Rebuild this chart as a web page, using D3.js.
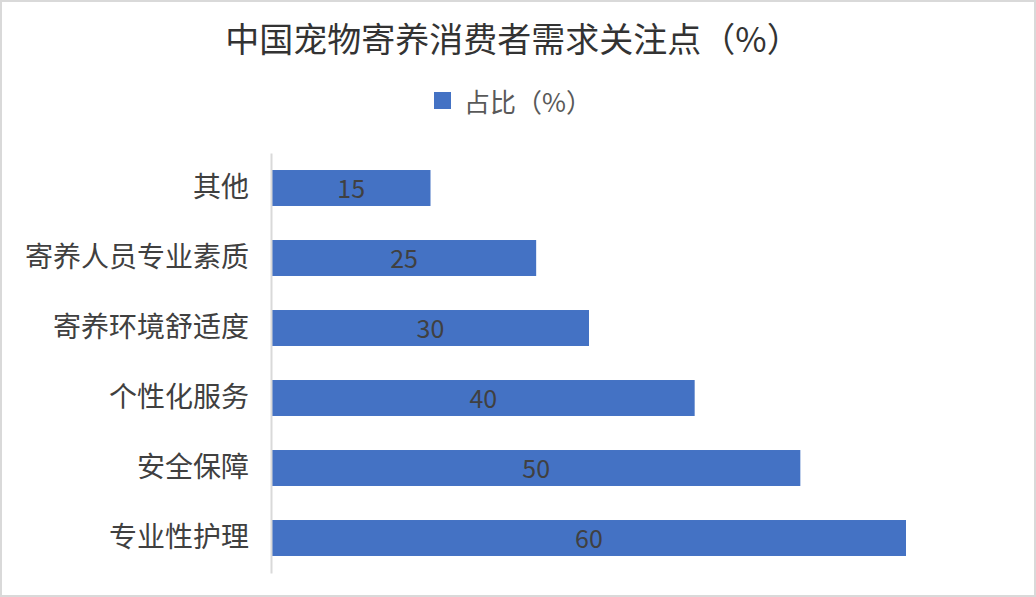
<!DOCTYPE html>
<html><head><meta charset="utf-8">
<script src="https://cdn.jsdelivr.net/npm/d3@7"></script>
<style>
html,body{margin:0;padding:0;background:#fff;}
svg{display:block;}
text{font-family:"Noto Sans CJK SC","Microsoft YaHei",sans-serif;}
</style></head>
<body>
<svg id="chart" width="1036" height="597"></svg>
<script>
const title = "中国宠物寄养消费者需求关注点（%）";
const seriesName = "占比（%）";
const categories = ["其他","寄养人员专业素质","寄养环境舒适度","个性化服务","安全保障","专业性护理"];
const values = [15,25,30,40,50,60];

const W = 1036, H = 597;
const svg = d3.select("#chart");

svg.append("rect").attr("x",1).attr("y",1).attr("width",W-2).attr("height",H-2)
  .attr("fill","#fff").attr("stroke","#d9d9d9").attr("stroke-width",2);

svg.append("text").attr("x",513).attr("y",37).attr("text-anchor","middle")
  .attr("dominant-baseline","central").attr("font-size",34).attr("fill","#333")
  .attr("font-weight",400).text(title);

// legend
const lg = svg.append("g");
lg.append("rect").attr("x",434).attr("y",92).attr("width",17).attr("height",17).attr("fill","#4472c4");
lg.append("text").attr("x",464).attr("y",100).attr("dominant-baseline","central")
  .attr("font-size",26).attr("fill","#595959").text(seriesName);

const x = d3.scaleLinear().domain([0,60]).range([272,906]);
const y = d3.scaleBand().domain(categories).range([153,573]).paddingInner(0.486).paddingOuter(0.243);

// bars
svg.append("g").selectAll("rect").data(values).join("rect")
  .attr("x",x(0)).attr("y",(d,i)=>y(categories[i]))
  .attr("width",d=>x(d)-x(0)).attr("height",y.bandwidth()).attr("fill","#4472c4");

// value labels
svg.append("g").selectAll("text").data(values).join("text")
  .attr("x",d=>(x(0)+x(d))/2).attr("y",(d,i)=>y(categories[i])+y.bandwidth()/2-1)
  .attr("text-anchor","middle").attr("dominant-baseline","central")
  .attr("font-size",25).attr("fill","#404040").text(d=>d);

// y axis
const yAxis = d3.axisLeft(y).tickSize(0).tickPadding(22);
const ag = svg.append("g").attr("transform",`translate(${x(0)-1},0)`).call(yAxis);
ag.select(".domain").attr("stroke","#d9d9d9").attr("stroke-width",2);
ag.selectAll(".tick text").attr("font-size",28).attr("fill","#404040")
  .attr("font-family",'"Noto Sans CJK SC","Microsoft YaHei",sans-serif').attr("dy","0.33em");
</script>
</body></html>
